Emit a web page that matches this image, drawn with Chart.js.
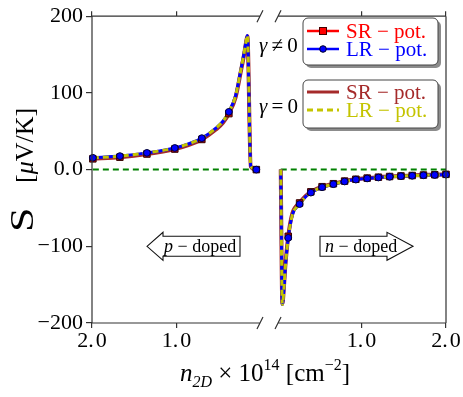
<!DOCTYPE html>
<html>
<head>
<meta charset="utf-8">
<script src="https://cdn.jsdelivr.net/npm/chart.js@4/dist/chart.umd.min.js"></script>
<style>
  html, body { margin: 0; padding: 0; background: #fff; }
  #wrap { width: 463px; height: 397px; }
</style>
</head>
<body>
<div id="wrap"><canvas id="chart-seebeck" width="463" height="397"></canvas></div>
<script>
// Seebeck coefficient vs 2D carrier density (p-doped left, n-doped right)

// p-doped side, density in 1e14 cm^-2
const nLeft    = [1.99, 1.67, 1.35, 1.02, 0.86, 0.70, 0.53, 0.45, 0.38, 0.30, 0.24, 0.20, 0.175, 0.161, 0.121, 0.055];
const lrLeft   = [15.4, 17.6, 21.8, 28.2, 33.5, 41.0, 54.5, 63.0, 75.3, 96.5, 129, 152, 168, 175, 4.5, 0];
const srLeft   = [14.0, 16.2, 20.3, 26.8, 32.0, 39.3, 52.5, 61.0, 73.0, 94.5, 127, 150, 167, 174, 4.0, 0];
const markLeft = [0, 1, 2, 3, 5, 8, 15];

// n-doped side
const nRight    = [0.044, 0.063, 0.083, 0.095, 0.133, 0.182, 0.267, 0.333, 0.40, 0.533, 0.667, 0.80, 0.933, 1.067, 1.20, 1.333, 1.467, 1.60, 1.733, 1.867, 2.0];
const lrRight   = [0, -176, -153, -132, -89, -59, -45, -36, -30, -23, -19, -15.5, -13, -11.5, -10.3, -9.3, -8.6, -8.0, -7.4, -7.0, -6.5];
const srRight   = [0, -175, -151, -130, -87, -57, -43.5, -35, -29, -22.3, -18.4, -15, -12.6, -11.1, -9.9, -9.0, -8.3, -7.7, -7.1, -6.7, -6.2];
const markRight = [4, 6, 8, 9, 10, 11, 12, 13, 14, 15, 16, 17, 18, 19, 20];

// axis ticks
const yTicks      = [-200, -100, 0, 100, 200];
const yTickLabels = ['\u2212200', '\u2212100', '0.\u200A0', '100', '200'];
const xTicks      = [-2, -1, 1, 2];   // sign = side (p / n)
const xTickLabels = ['2.\u200A0', '1.\u200A0', '1.\u200A0', '2.\u200A0'];

const GAP = 0.095;   // half-width of the axis break, in density units
const SERIF = "'Liberation Serif', 'DejaVu Serif', serif";

const toU = (n, side) => side * (n + GAP);

function buildPoints(nL, sL, nR, sR) {
  const pts = nL.map((n, i) => ({ x: toU(n, -1), y: sL[i] }));
  pts.push({ x: 0, y: null });
  nR.forEach((n, i) => pts.push({ x: toU(n, 1), y: sR[i] }));
  return pts;
}

function buildMarks(vL, vR) {
  const pts = markLeft.map(i => ({ x: toU(nLeft[i], -1), y: vL[i] }));
  markRight.forEach(i => pts.push({ x: toU(nRight[i], 1), y: vR[i] }));
  return pts;
}

const zeroLine = [
  { x: toU(nLeft[0], -1), y: 0 }, { x: toU(nLeft[nLeft.length - 1], -1), y: 0 },
  { x: 0, y: null },
  { x: toU(nRight[0], 1), y: 0 }, { x: toU(nRight[nRight.length - 1], 1), y: 0 },
];

const C = {
  red: '#ff0000', blue: '#0000ff', brown: '#a52a2a', yellow: '#c4c400', green: '#008000', frame: '#333333',
};

function lineSet(data, color, width, dash, order) {
  return {
    data, borderColor: color, borderWidth: width, borderDash: dash || [],
    pointRadius: 0, fill: false, spanGaps: false, cubicInterpolationMode: 'monotone', order,
  };
}

function roundRect(ctx, x, y, w, h, r) {
  ctx.beginPath();
  ctx.moveTo(x + r, y);
  ctx.arcTo(x + w, y, x + w, y + h, r);
  ctx.arcTo(x + w, y + h, x, y + h, r);
  ctx.arcTo(x, y + h, x, y, r);
  ctx.arcTo(x, y, x + w, y, r);
  ctx.closePath();
}

// parts: [text, size, italic, dy]
function richText(ctx, parts, x, y, align, color) {
  const fontOf = p => `${p[2] ? 'italic ' : ''}${p[1]}px ${SERIF}`;
  let w = 0;
  for (const p of parts) { ctx.font = fontOf(p); w += ctx.measureText(p[0]).width; }
  let cx = align === 'center' ? x - w / 2 : x;
  ctx.fillStyle = color || '#000';
  ctx.textBaseline = 'alphabetic';
  ctx.textAlign = 'left';
  for (const p of parts) {
    ctx.font = fontOf(p);
    ctx.fillText(p[0], cx, y + (p[3] || 0));
    cx += ctx.measureText(p[0]).width;
  }
  return w;
}

function legendBox(ctx, x, y, w, h) {
  ctx.save();
  ctx.fillStyle = 'rgba(0,0,0,0.45)';
  roundRect(ctx, x + 3, y + 3, w, h, 5);
  ctx.fill();
  ctx.fillStyle = '#fff';
  ctx.strokeStyle = '#444';
  ctx.lineWidth = 1;
  roundRect(ctx, x, y, w, h, 5);
  ctx.fill();
  ctx.stroke();
  ctx.restore();
}

function legendRow(ctx, y, color, width, dash, marker, label) {
  ctx.save();
  ctx.strokeStyle = color;
  ctx.lineWidth = width;
  ctx.setLineDash(dash || []);
  ctx.beginPath();
  ctx.moveTo(307, y);
  ctx.lineTo(339, y);
  ctx.stroke();
  ctx.setLineDash([]);
  ctx.lineWidth = 1;
  if (marker === 'rect') {
    ctx.fillStyle = color; ctx.strokeStyle = '#400';
    ctx.fillRect(319.5, y - 3.5, 7, 7); ctx.strokeRect(319.5, y - 3.5, 7, 7);
  } else if (marker === 'circle') {
    ctx.fillStyle = color; ctx.strokeStyle = '#002';
    ctx.beginPath(); ctx.arc(323, y, 3.3, 0, Math.PI * 2); ctx.fill(); ctx.stroke();
  }
  richText(ctx, [[label, 21, false, 0]], 346, y + 7, 'left', color);
  ctx.restore();
}

function arrow(ctx, tipX, baseX, endX, cy, textX, parts) {
  const bh = 10, hh = 14;
  ctx.save();
  ctx.beginPath();
  ctx.moveTo(tipX, cy);
  ctx.lineTo(baseX, cy - hh);
  ctx.lineTo(baseX, cy - bh);
  ctx.lineTo(endX, cy - bh);
  ctx.lineTo(endX, cy + bh);
  ctx.lineTo(baseX, cy + bh);
  ctx.lineTo(baseX, cy + hh);
  ctx.closePath();
  ctx.fillStyle = '#fff';
  ctx.fill();
  ctx.strokeStyle = '#111';
  ctx.lineWidth = 1.1;
  ctx.stroke();
  richText(ctx, parts, textX, cy + 6, 'left', '#000');
  ctx.restore();
}

const decorPlugin = {
  id: 'decor',
  afterDraw(chart) {
    const { ctx, chartArea: a, scales } = chart;
    const xs = scales.x, ys = scales.y;
    const bl = xs.getPixelForValue(-GAP) - 1;
    const br = xs.getPixelForValue(GAP) + 1;

    // frame with axis break
    ctx.save();
    ctx.strokeStyle = C.frame;
    ctx.lineWidth = 1.2;
    ctx.beginPath();
    ctx.moveTo(a.left, a.top); ctx.lineTo(a.left, a.bottom);
    ctx.moveTo(a.right, a.top); ctx.lineTo(a.right, a.bottom);
    for (const yy of [a.top, a.bottom]) {
      ctx.moveTo(a.left, yy); ctx.lineTo(bl, yy);
      ctx.moveTo(br, yy); ctx.lineTo(a.right, yy);
      ctx.moveTo(bl - 3, yy + 6); ctx.lineTo(bl + 3, yy - 6);
      ctx.moveTo(br - 3, yy + 6); ctx.lineTo(br + 3, yy - 6);
    }
    ctx.stroke();
    ctx.restore();

    // legends
    legendBox(ctx, 303, 18, 135, 47);
    legendRow(ctx, 31, C.red, 2.5, null, 'rect', 'SR \u2212 pot.');
    legendRow(ctx, 49, C.blue, 2.5, null, 'circle', 'LR \u2212 pot.');
    legendBox(ctx, 303, 80, 135, 48);
    legendRow(ctx, 92, C.brown, 3, null, null, 'SR \u2212 pot.');
    legendRow(ctx, 110, C.yellow, 3, [6, 4], null, 'LR \u2212 pot.');

    richText(ctx, [['\u03B3', 21, true, 0], ['\u2009\u2260\u2009', 21, false, 0], ['0', 21, false, 0]], 259, 52, 'left', '#000');
    richText(ctx, [['\u03B3', 21, true, 0], ['\u2009=\u2009', 21, false, 0], ['0', 21, false, 0]], 259, 113, 'left', '#000');

    // doping arrows
    const ay = ys.getPixelForValue(-100);
    arrow(ctx, 147, 163, 240, ay, 164, [['p', 18, true, 0], [' \u2212 doped', 18, false, 0]]);
    arrow(ctx, 413, 387, 320, ay, 325, [['n', 18, true, 0], [' \u2212 doped', 18, false, 0]]);

    // x title
    richText(ctx, [
      ['n', 25, true, 0], ['2D', 16, true, 6], [' \u00D7 10', 25, false, 0], ['14', 16, false, -11],
      [' [cm', 25, false, 0], ['\u22122', 16, false, -11], [']', 25, false, 0],
    ], 265, 381, 'center', '#000');

    // y title (rotated)
    ctx.save();
    ctx.translate(33, 232);
    ctx.rotate(-Math.PI / 2);
    ctx.save();
    ctx.scale(1.3, 1);
    richText(ctx, [['S', 34, false, 0]], 0, 0, 'left', '#000');
    ctx.restore();
    richText(ctx, [['[', 26, false, 0], ['\u03BC', 26, true, 0], ['V/K]', 26, false, 0]], 49, 0, 'left', '#000');
    ctx.restore();
  },
};

const xRange = { min: -(2 + GAP), max: 2 + GAP };
const setXTicks = s => { s.ticks = xTicks.map(v => ({ value: Math.sign(v) * (Math.abs(v) + GAP) })); };

new Chart(document.getElementById('chart-seebeck'), {
  type: 'line',
  data: {
    datasets: [
      { data: buildMarks(lrLeft, lrRight), showLine: false, pointStyle: 'circle', pointRadius: 3.4,
        pointBackgroundColor: C.blue, pointBorderColor: '#000033', pointBorderWidth: 1, order: 0, clip: 6 },
      { data: buildMarks(srLeft, srRight), showLine: false, pointStyle: 'rect', pointRadius: 4.6,
        pointBackgroundColor: '#cc0000', pointBorderColor: '#330000', pointBorderWidth: 1, order: 1, clip: 6 },
      lineSet(buildPoints(nLeft, lrLeft, nRight, lrRight), C.yellow, 3, [6, 4], 2),
      lineSet(buildPoints(nLeft, lrLeft, nRight, lrRight), C.blue, 3, null, 3),
      lineSet(buildPoints(nLeft, srLeft, nRight, srRight), C.brown, 4, null, 4),
      lineSet(buildPoints(nLeft, srLeft, nRight, srRight), C.red, 2.5, null, 5),
      lineSet(zeroLine, C.green, 2, [6, 4], 6),
    ],
  },
  options: {
    responsive: false,
    animation: false,
    parsing: true,
    layout: { padding: { left: 0, right: 17, top: 11, bottom: 0 } },
    plugins: { legend: { display: false }, tooltip: { enabled: false } },
    scales: {
      x: {
        type: 'linear', position: 'bottom', ...xRange,
        afterBuildTicks: setXTicks,
        afterFit: s => { s.height = 74; },
        ticks: { callback: (v, i) => xTickLabels[i], color: '#000', padding: 0, font: { family: SERIF, size: 22 }, maxRotation: 0 },
        grid: { drawOnChartArea: false, tickLength: 5, color: C.frame, lineWidth: 1.2 },
        border: { display: false },
      },
      xTop: {
        type: 'linear', position: 'top', ...xRange,
        afterBuildTicks: setXTicks,
        afterFit: s => { s.height = 0; },
        ticks: { display: false },
        grid: { drawOnChartArea: false, tickLength: 5, color: C.frame, lineWidth: 1.2 },
        border: { display: false },
      },
      y: {
        min: -200, max: 200,
        afterBuildTicks: s => { s.ticks = yTicks.map(v => ({ value: v })); },
        afterFit: s => { s.width = 92; },
        ticks: { callback: (v, i) => yTickLabels[i], color: '#000', padding: 3, font: { family: SERIF, size: 22 } },
        grid: { drawOnChartArea: false, tickLength: 6, color: C.frame, lineWidth: 1.2 },
        border: { display: false },
      },
    },
  },
  plugins: [decorPlugin],
});
</script>
</body>
</html>
